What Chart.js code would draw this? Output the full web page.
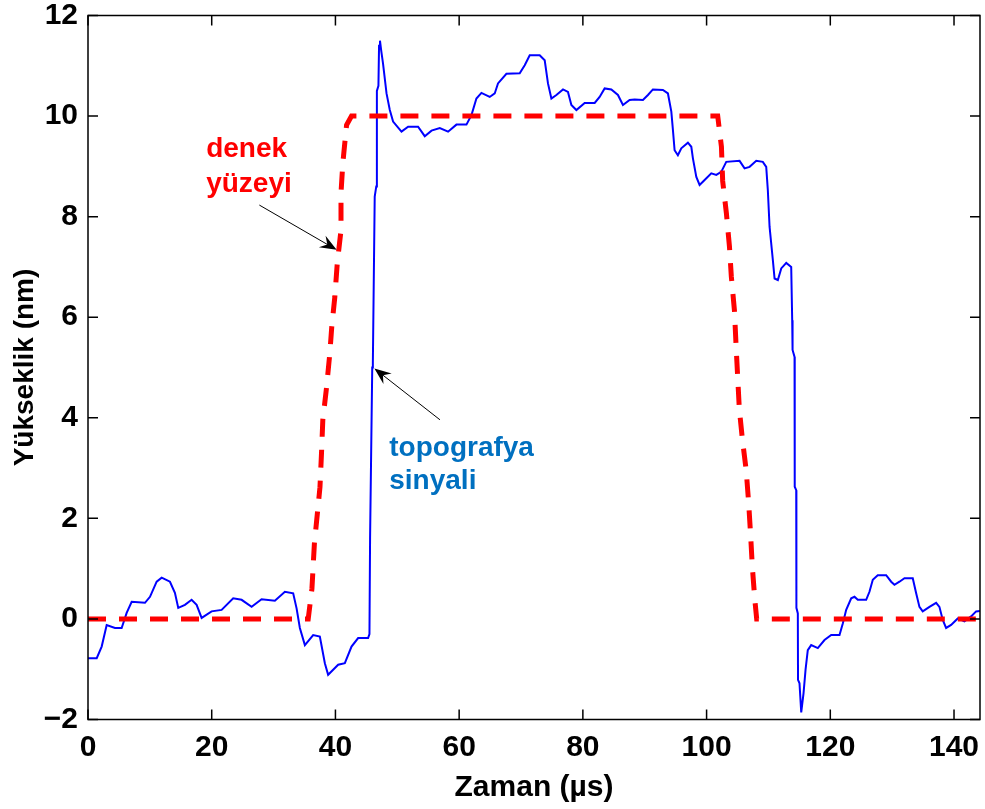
<!DOCTYPE html>
<html>
<head>
<meta charset="utf-8">
<script src="https://cdn.jsdelivr.net/npm/chart.js@4.4.1/dist/chart.umd.min.js"></script>
<style>
    html, body { margin: 0; padding: 0; background: #fff; }
    #chart { display: block; }
</style>
</head>
<body>
<canvas id="chart" width="985" height="809"></canvas>
<script>
// denek yüzeyi (kesikli kırmızı)
const surfaceTime = [0, 35.6, 36.2, 36.6, 37.5, 37.75, 37.96, 38.56, 39.1, 39.4, 39.9, 40.3, 40.9, 40.9, 41.2, 41.8, 42.6,
    101.8, 102.4, 102.6, 103.2, 103.7, 104.0, 104.5, 104.8, 105.3, 105.8, 106.4, 106.8, 107.1, 107.4, 107.8, 108.1, 144.2];
const surfaceHeight = [0, 0, 0.6, 1.5, 2.62, 3.3, 3.96, 4.6, 5.29, 5.8, 6.4, 7.08, 7.73, 8.47, 9.07, 9.82, 10,
    10, 9.39, 8.71, 8.07, 7.4, 6.81, 6.14, 5.35, 4.16, 3.56, 2.96, 2.31, 1.71, 1.03, 0.38, 0, 0];

// topografya sinyali (mavi)
const signalTime = [0, 1.41, 2.21, 3.02, 4.36, 5.44, 6.25, 7.06, 9.21, 10.02, 11.1, 11.91, 13.25, 14.05, 14.59, 15.67,
    16.75, 17.56, 18.37, 19.98, 21.6, 23.47, 24.83, 26.45, 28.06, 30.21, 31.83, 33.17, 33.72, 34.25, 35.06, 36.4,
    37.48, 38.29, 38.82, 40.44, 41.52, 42.6, 43.67, 45.28, 45.5, 45.6, 45.95, 46.05, 46.35, 46.6, 46.7, 46.95,
    47.05, 47.2, 47.4, 47.69, 48.26, 48.79, 49.32, 50.68, 51.75, 53.36, 54.44, 55.53, 56.87, 58.21, 59.56, 61.18,
    61.99, 62.79, 63.6, 64.94, 65.75, 66.28, 67.64, 69.79, 70.6, 71.41, 73.02, 73.83, 74.36, 74.91, 75.72, 76.79,
    77.59, 78.14, 78.95, 80.29, 81.91, 82.71, 83.52, 84.6, 85.67, 86.48, 87.56, 88.37, 89.71, 90.52, 91.32, 92.94,
    93.75, 94.3, 94.56, 94.83, 95.36, 95.91, 96.98, 97.53, 97.79, 98.34, 98.87, 99.68, 100.76, 101.57, 102.37,
    103.18, 105.33, 106.14, 106.95, 108.03, 109.09, 109.64, 109.9, 110.18, 110.71, 110.99, 111.52, 112.07, 112.88,
    113.68, 113.84, 113.9, 114.22, 114.25, 114.49, 114.52, 114.75, 114.78, 115.02, 115.3, 115.67, 116.0, 116.36,
    116.91, 117.98, 119.06, 120.15, 121.49, 122.02, 122.57, 123.38, 123.91, 124.44, 125.8, 126.33, 126.87, 127.67,
    129.03, 129.84, 130.37, 131.18, 131.99, 133.33, 133.88, 134.41, 134.94, 136.03, 137.11, 137.64, 138.18, 138.72,
    139.53, 140.6, 141.68, 142.76, 143.57, 144.2];
const signalHeight = [-0.78, -0.78, -0.55, -0.12, -0.18, -0.18, 0.12, 0.34, 0.32, 0.44, 0.74, 0.82, 0.74, 0.52, 0.22, 0.28,
    0.38, 0.28, 0.02, 0.15, 0.18, 0.41, 0.38, 0.24, 0.39, 0.36, 0.54, 0.51, 0.21, -0.18, -0.52, -0.32,
    -0.35, -0.88, -1.11, -0.91, -0.88, -0.55, -0.38, -0.38, -0.3, 1.6, 5.0, 5.1, 8.4, 8.6, 10.5, 10.6,
    11.4, 11.5, 11.3, 11.05, 10.45, 10.12, 9.89, 9.69, 9.79, 9.79, 9.6, 9.71, 9.76, 9.69, 9.83, 9.83,
    10.02, 10.35, 10.46, 10.38, 10.45, 10.65, 10.84, 10.85, 11.01, 11.21, 11.21, 11.11, 10.65, 10.35, 10.42, 10.53,
    10.48, 10.22, 10.12, 10.26, 10.26, 10.38, 10.55, 10.53, 10.42, 10.22, 10.32, 10.33, 10.32, 10.42, 10.53, 10.52,
    10.45, 10.09, 9.72, 9.32, 9.22, 9.36, 9.47, 9.39, 9.16, 8.79, 8.63, 8.73, 8.86, 8.83, 8.89,
    9.09, 9.11, 8.96, 8.99, 9.11, 9.09, 8.99, 8.53, 7.8, 7.14, 6.77, 6.74, 6.97, 7.08,
    7.0, 5.94, 5.35, 5.21, 2.63, 2.56, 0.22, 0.11, -1.21, -1.28, -1.86, -1.48, -1.01, -0.62,
    -0.52, -0.58, -0.42, -0.32, -0.32, -0.09, 0.18, 0.41, 0.44, 0.38, 0.38, 0.54, 0.78, 0.87,
    0.87, 0.74, 0.68, 0.74, 0.81, 0.81, 0.51, 0.24, 0.15, 0.24, 0.32, 0.24, -0.02, -0.18,
    -0.12, 0.01, -0.05, 0.05, 0.15, 0.16];

const xTicks = [0, 20, 40, 60, 80, 100, 120, 140];
const yTicks = [-2, 0, 2, 4, 6, 8, 10, 12];

// etiketler: metin satırları, renk, sol x, satır taban çizgileri (veri biriminde)
const labels = [
    { lines: ['denek', 'yüzeyi'], color: '#ff0000', x: 19.1, y: [9.18, 8.49] },
    { lines: ['topografya', 'sinyali'], color: '#0070c0', x: 48.7, y: [3.24, 2.58] },
];
// oklar: kuyruk -> uç
const arrows = [
    { from: [27.7, 8.23], to: [40.2, 7.34] },
    { from: [56.9, 3.96], to: [46.3, 4.98] },
];

const toPoints = (xs, ys) => xs.map((x, i) => ({ x, y: ys[i] }));
const fmtTick = (v) => (v < 0 ? '\u2212' + Math.abs(v) : String(v));
const tickFont = { family: '"Liberation Sans", Arial, sans-serif', size: 30, weight: 'bold' };

const framePlugin = {
    id: 'frame',
    afterDatasetsDraw(chart) {
        const { ctx, chartArea: a, scales: { x, y } } = chart;
        ctx.save();
        ctx.strokeStyle = '#000';
        ctx.lineWidth = 1.5;
        ctx.setLineDash([]);
        ctx.strokeRect(a.left, a.top, a.right - a.left, a.bottom - a.top);

        const len = 10;
        ctx.beginPath();
        xTicks.forEach((t) => {
            const px = x.getPixelForValue(t);
            ctx.moveTo(px, a.bottom); ctx.lineTo(px, a.bottom - len);
            ctx.moveTo(px, a.top); ctx.lineTo(px, a.top + len);
        });
        yTicks.forEach((t) => {
            const py = y.getPixelForValue(t);
            ctx.moveTo(a.left, py); ctx.lineTo(a.left + len, py);
            ctx.moveTo(a.right, py); ctx.lineTo(a.right - len, py);
        });
        ctx.stroke();

        // oklar
        ctx.lineWidth = 1;
        ctx.fillStyle = '#000';
        arrows.forEach(({ from, to }) => {
            const x0 = x.getPixelForValue(from[0]);
            const y0 = y.getPixelForValue(from[1]);
            const x1 = x.getPixelForValue(to[0]);
            const y1 = y.getPixelForValue(to[1]);
            const ang = Math.atan2(y1 - y0, x1 - x0);
            const head = 18;
            ctx.beginPath();
            ctx.moveTo(x0, y0);
            ctx.lineTo(x1 - Math.cos(ang) * 8, y1 - Math.sin(ang) * 8);
            ctx.stroke();
            ctx.beginPath();
            ctx.moveTo(x1, y1);
            ctx.lineTo(x1 - head * Math.cos(ang - 0.38), y1 - head * Math.sin(ang - 0.38));
            ctx.lineTo(x1 - head * 0.6 * Math.cos(ang), y1 - head * 0.6 * Math.sin(ang));
            ctx.lineTo(x1 - head * Math.cos(ang + 0.38), y1 - head * Math.sin(ang + 0.38));
            ctx.closePath();
            ctx.fill();
        });

        // açıklama metinleri
        ctx.font = 'bold 28px "Liberation Sans", Arial, sans-serif';
        ctx.textAlign = 'left';
        ctx.textBaseline = 'alphabetic';
        labels.forEach((l) => {
            ctx.fillStyle = l.color;
            l.lines.forEach((line, i) => {
                ctx.fillText(line, x.getPixelForValue(l.x), y.getPixelForValue(l.y[i]));
            });
        });
        ctx.restore();
    },
};

new Chart(document.getElementById('chart'), {
    type: 'line',
    data: {
        datasets: [
            {
                label: 'topografya sinyali',
                data: toPoints(signalTime, signalHeight),
                borderColor: '#0000ff',
                borderWidth: 2,
                pointRadius: 0,
                tension: 0,
                order: 2,
            },
            {
                label: 'denek yüzeyi',
                data: toPoints(surfaceTime, surfaceHeight),
                borderColor: '#ff0000',
                borderWidth: 5,
                borderDash: [18, 13],
                borderCapStyle: 'butt',
                pointRadius: 0,
                tension: 0,
                order: 1,
            },
        ],
    },
    options: {
        responsive: false,
        devicePixelRatio: 1,
        animation: false,
        layout: { padding: 0 },
        plugins: { legend: { display: false }, tooltip: { enabled: false } },
        scales: {
            x: {
                type: 'linear',
                min: 0,
                max: 144.2,
                afterFit: (s) => {
                    s.height = 89.5;
                    s.paddingLeft = 0;
                    s.paddingRight = 5;
                },
                afterBuildTicks: (s) => { s.ticks = xTicks.map((v) => ({ value: v })); },
                grid: { display: false, drawTicks: false },
                border: { display: false },
                ticks: { color: '#000', font: tickFont, padding: 10, maxRotation: 0, autoSkip: false, callback: fmtTick },
                title: {
                    display: true,
                    text: 'Zaman (µs)',
                    color: '#000',
                    font: { family: tickFont.family, size: 30, weight: 'bold' },
                    padding: { top: 0, bottom: 3 },
                },
            },
            y: {
                min: -2,
                max: 12,
                afterFit: (s) => {
                    s.width = 88;
                    s.paddingTop = 15.5;
                    s.paddingBottom = 0;
                },
                afterBuildTicks: (s) => { s.ticks = yTicks.map((v) => ({ value: v })); },
                grid: { display: false, drawTicks: false },
                border: { display: false },
                ticks: { color: '#000', font: tickFont, padding: 10, autoSkip: false, callback: fmtTick },
                title: {
                    display: true,
                    text: 'Yükseklik (nm)',
                    color: '#000',
                    font: { family: tickFont.family, size: 28, weight: 'bold' },
                    padding: { top: 8, bottom: 0 },
                },
            },
        },
    },
    plugins: [framePlugin],
});
</script>
</body>
</html>
